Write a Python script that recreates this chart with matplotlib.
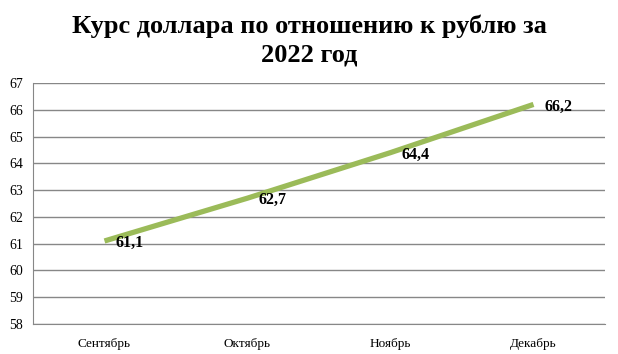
import matplotlib.pyplot as plt

months = ['Сентябрь', 'Октябрь', 'Ноябрь', 'Декабрь']
rates = [61.1, 62.7, 64.4, 66.2]
labels = ['61,1', '62,7', '64,4', '66,2']

plt.rcParams['font.family'] = ['Liberation Serif', 'DejaVu Serif']

fig = plt.figure(figsize=(6.18, 3.54), dpi=100)
ax = fig.add_axes([33 / 618, 1 - 324 / 354, 572 / 618, 241 / 354])

x = range(len(months))
ax.plot(x, rates, color='#9bbb59', linewidth=3.8, solid_capstyle='butt')
for i, (v, t) in enumerate(zip(rates, labels)):
    ax.annotate(t, (i, v), xytext=(8, -1.5), textcoords='offset points',
                ha='left', va='center', fontsize=11.5, fontweight='bold')

ax.set_xlim(-0.5, 3.5)
ax.set_ylim(58, 67)
ax.set_yticks(range(58, 68))
ax.set_xticks(list(x))
ax.set_xticklabels(months)
ax.tick_params(axis='both', length=0, labelsize=9.5)
ax.tick_params(axis='y', labelsize=10, pad=7)
ax.tick_params(axis='x', pad=10)
ax.grid(axis='y', color='#878787', linewidth=1)
ax.set_axisbelow(True)
for s in ['top', 'right']:
    ax.spines[s].set_visible(False)
for s in ['left', 'bottom']:
    ax.spines[s].set_color('#878787')

fig.text(0.5, 0.886, 'Курс доллара по отношению к рублю за\n2022 год', ha='center',
         va='center', fontsize=19, fontweight='bold', linespacing=1.28)

fig.savefig('out.png', dpi=100)
